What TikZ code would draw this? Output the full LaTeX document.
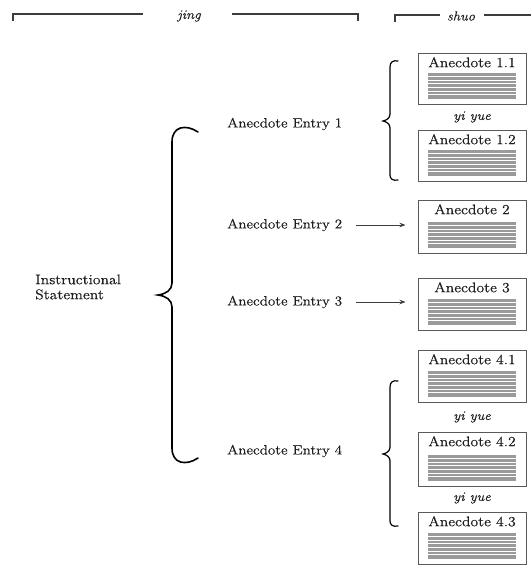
\documentclass[tikz,border=0pt]{standalone}
\usepackage{fontspec}
\setmainfont{Latin Modern Roman}[FakeStretch=1.12, FakeBold=0.4]
\usetikzlibrary{arrows.meta,calc}
\definecolor{ink}{HTML}{1E1E1E}
\definecolor{rulegray}{HTML}{3C3C3C}
\definecolor{boxgray}{HTML}{5A5A5A}
\definecolor{stripegray}{HTML}{9A9A9A}

\begin{document}
\begin{tikzpicture}[x=1pt,y=-1pt,
  txt/.style={text=ink, font=\fontsize{13.5}{15}\selectfont, inner sep=0pt},
  entry/.style={txt, anchor=west},
  hdr/.style={txt, font=\fontsize{13}{15}\selectfont\itshape},
  yiyue/.style={txt, font=\fontsize{13}{15}\selectfont\itshape},
  rule/.style={draw=rulegray, line width=1.3pt},
  brace/.style={draw=black, line width=1.6pt, line cap=round},
  smallbrace/.style={draw=black, line width=1.2pt, line cap=round},
  arr/.style={draw=rulegray, line width=0.8pt, shorten <=14pt, shorten >=12pt,
    -{Stealth[length=6pt,width=4.5pt]}},
  abox/.style={draw=boxgray, line width=1pt, minimum width=108pt, inner sep=0pt,
    anchor=north,
    path picture={
      \fill[stripegray]
        ([shift={(10pt,6pt)}]path picture bounding box.south west) rectangle
        ([shift={(-10pt,32pt)}]path picture bounding box.south east);
      \foreach \k in {1,...,6}
        \draw[white, line width=0.8pt]
          ([shift={(10pt,6pt+\k*3.714pt)}]path picture bounding box.south west) --
          ([shift={(-10pt,6pt+\k*3.714pt)}]path picture bounding box.south east);
    }},
  blabel/.style={txt, font=\fontsize{14}{15}\selectfont, anchor=north, yshift=-4pt}
]
\useasboundingbox (0,0) rectangle (531,565);

% header rules
\node[hdr] (jing) at (189,16) {jing};
\coordinate (jL) at (13,21);
\coordinate (jLe) at (143,14);
\coordinate (jRs) at (232,14);
\coordinate (jR) at (358,21);
\draw[rule] (jL) |- (jLe);
\draw[rule] (jRs) -| (jR);

\node[hdr] (shuo) at (461,16) {shuo};
\coordinate (sL) at (395,22);
\coordinate (sLe) at (440,15);
\coordinate (sRs) at (484,15);
\coordinate (sR) at (531,15);
\draw[rule] (sL) |- (sLe);
\draw[rule] (sRs) -- (sR);

% left column
\node[txt, font=\fontsize{14}{15}\selectfont, align=left, anchor=west] (ins) at (35,287) {Instructional\\Statement};

\draw[brace] (198,132) .. controls (186,124) and (172,126) .. (172,142)
  -- (172,283) .. controls (172,290) and (166,294) .. (158,295)
  .. controls (166,296) and (172,300) .. (172,307)
  -- (172,448) .. controls (172,464) and (186,466) .. (198,458);

\node[entry] (e1) at (227,124) {Anecdote Entry 1};
\node[entry] (e2) at (227,225) {Anecdote Entry 2};
\node[entry] (e3) at (227,302) {Anecdote Entry 3};
\node[entry] (e4) at (227,451) {Anecdote Entry 4};

% anecdote boxes
\node[abox, minimum height=51pt] (b11) at (472,53) {};
\node[blabel] (t11) at (b11.north) {Anecdote 1.1};
\node[yiyue] (y1) at (472,117) {yi yue};
\node[abox, minimum height=51pt] (b12) at (472,130) {};
\node[blabel] (t12) at (b12.north) {Anecdote 1.2};

\node[abox, minimum height=53pt] (b2) at (472,200) {};
\node[blabel] (t2) at (b2.north) {Anecdote 2};

\node[abox, minimum height=52pt] (b3) at (472,278) {};
\node[blabel] (t3) at (b3.north) {Anecdote 3};

\node[abox, minimum height=52pt] (b41) at (472,350) {};
\node[blabel] (t41) at (b41.north) {Anecdote 4.1};
\node[yiyue] (y41) at (472,417) {yi yue};
\node[abox, minimum height=54pt] (b42) at (472,432) {};
\node[blabel] (t42) at (b42.north) {Anecdote 4.2};
\node[yiyue] (y42) at (472,498) {yi yue};
\node[abox, minimum height=52pt] (b43) at (472,512) {};
\node[blabel] (t43) at (b43.north) {Anecdote 4.3};

% arrows to single anecdotes
\draw[arr] (e2.east) -- (e2.east -| b2.west);
\draw[arr] (e3.east) -- (e3.east -| b3.west);

% small braces grouping the yi yue chains
\draw[smallbrace] (398,61) .. controls (393,60) and (390,62) .. (390,67)
  -- (390,114) .. controls (390,118) and (387,120) .. (383,121)
  .. controls (387,122) and (390,124) .. (390,128)
  -- (390,175) .. controls (390,179) and (393,181) .. (398,180);

\draw[smallbrace] (398,381) .. controls (393,380) and (390,382) .. (390,387)
  -- (390,447) .. controls (390,451) and (387,453) .. (383,454)
  .. controls (387,455) and (390,457) .. (390,461)
  -- (390,521) .. controls (390,525) and (393,527) .. (398,526);
\end{tikzpicture}
\end{document}
